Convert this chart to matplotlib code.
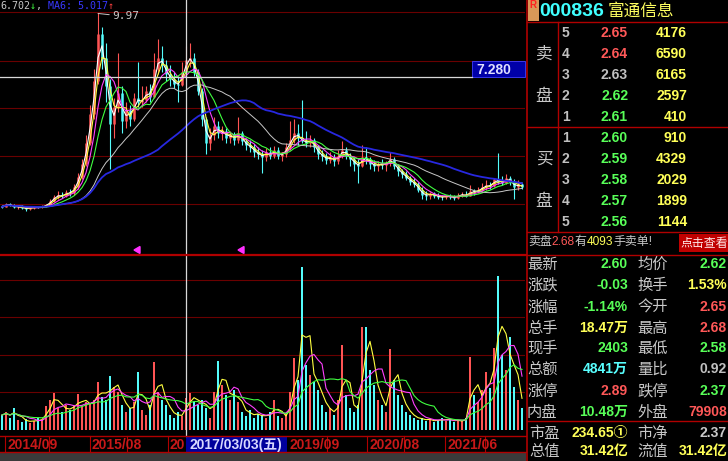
import matplotlib
matplotlib.use('Agg')
import matplotlib.pyplot as plt
import numpy as np
import pandas as pd
from matplotlib.patches import Rectangle, Polygon

plt.rcParams['font.family'] = ['Liberation Sans', 'Noto Sans CJK SC', 'DejaVu Sans']

# ---- K-line data (compressed, one bar ~ 4 px) ----
opens = [1.80, 1.78, 1.90, 1.84, 1.76, 1.79, 1.72, 1.70, 1.74, 1.77, 1.75, 1.80, 1.86, 2.02, 2.20, 2.28,
         2.22, 2.40, 2.35, 2.62, 3.05, 3.60, 4.50, 5.70, 7.10, 9.10, 8.10, 6.90, 5.30, 6.00, 6.60, 5.40,
         5.90, 5.50, 6.40, 6.20, 6.30, 6.70, 6.45, 7.60, 8.10, 7.80, 7.40, 7.20, 7.00, 6.95, 7.50, 8.00,
         8.10, 7.50, 6.70, 5.50, 4.50, 4.80, 5.20, 4.90, 5.00, 4.70, 4.85, 4.60, 4.90, 4.55, 4.40, 4.30,
         4.10, 4.00, 3.90, 4.10, 3.95, 4.20, 3.95, 4.00, 4.30, 4.60, 4.90, 4.70, 4.55, 4.50, 4.60, 4.30,
         4.00, 3.95, 3.75, 3.90, 3.70, 3.95, 4.20, 3.95, 3.80, 3.60, 3.50, 3.90, 3.80, 3.60, 3.50, 3.60,
         3.55, 3.65, 3.80, 3.50, 3.30, 3.15, 3.00, 2.85, 2.75, 2.50, 2.30, 2.25, 2.35, 2.25, 2.20, 2.18,
         2.25, 2.20, 2.15, 2.28, 2.30, 2.25, 2.45, 2.40, 2.50, 2.60, 2.70, 2.65, 2.95, 2.85, 2.80, 3.00,
         2.85, 2.60, 2.75]
highs = [1.86, 1.95, 1.96, 1.88, 1.82, 1.85, 1.78, 1.76, 1.80, 1.82, 1.84, 1.90, 2.10, 2.30, 2.45, 2.40,
         2.50, 2.55, 2.75, 3.20, 3.80, 4.80, 6.10, 7.60, 9.97, 9.40, 8.70, 7.20, 6.40, 8.30, 6.90, 6.20,
         6.10, 6.60, 7.90, 6.90, 6.90, 7.00, 8.30, 8.90, 8.60, 8.00, 7.80, 7.50, 7.30, 7.90, 8.60, 8.70,
         8.30, 7.60, 6.80, 5.60, 5.10, 5.60, 5.40, 5.20, 5.10, 5.00, 4.95, 5.60, 5.00, 4.70, 4.60, 4.45,
         4.30, 4.20, 4.25, 4.30, 4.35, 4.30, 4.10, 4.50, 5.40, 5.50, 5.30, 6.30, 5.00, 4.80, 4.70, 4.40,
         4.20, 4.05, 4.10, 4.00, 4.20, 4.55, 4.30, 4.05, 3.90, 3.80, 4.40, 4.30, 3.90, 3.75, 3.70, 3.80,
         3.70, 4.10, 3.90, 3.60, 3.40, 3.30, 3.10, 3.00, 2.85, 2.60, 2.45, 2.40, 2.40, 2.35, 2.30, 2.30,
         2.32, 2.28, 2.35, 2.40, 2.45, 2.70, 2.55, 2.60, 2.80, 2.90, 2.85, 3.00, 4.05, 3.10, 3.15, 3.10,
         2.95, 2.90, 2.80]
lows = [1.74, 1.75, 1.80, 1.72, 1.70, 1.68, 1.62, 1.66, 1.70, 1.72, 1.73, 1.78, 1.84, 1.98, 2.10, 2.15,
        2.18, 2.25, 2.30, 2.55, 2.95, 3.50, 4.40, 5.50, 7.00, 7.60, 6.20, 3.40, 4.70, 5.80, 4.90, 5.10,
        5.20, 5.40, 6.00, 6.00, 6.20, 6.20, 6.40, 7.40, 7.50, 7.10, 6.90, 6.80, 6.20, 6.90, 7.40, 7.70,
        7.30, 6.50, 5.20, 4.00, 4.20, 4.60, 4.70, 4.60, 4.50, 4.50, 4.40, 4.50, 4.40, 4.20, 4.10, 3.90,
        3.80, 3.20, 3.70, 3.80, 3.85, 3.80, 3.70, 3.90, 4.20, 4.50, 4.40, 4.50, 4.30, 4.30, 4.10, 3.80,
        3.70, 3.60, 3.65, 3.50, 3.60, 3.85, 3.80, 3.50, 3.30, 2.80, 3.45, 3.60, 3.40, 3.30, 3.30, 3.40,
        3.30, 3.50, 3.40, 3.10, 3.00, 2.90, 2.70, 2.60, 2.40, 2.10, 2.05, 2.10, 2.15, 2.10, 2.05, 2.10,
        2.12, 2.08, 2.10, 2.18, 2.20, 2.22, 2.30, 2.35, 2.45, 2.50, 2.55, 2.60, 2.75, 2.70, 2.75, 2.70,
        2.10, 2.50, 2.55]
closes = [1.78, 1.90, 1.84, 1.76, 1.79, 1.72, 1.70, 1.74, 1.77, 1.75, 1.80, 1.86, 2.02, 2.20, 2.28, 2.22,
          2.40, 2.35, 2.62, 3.05, 3.60, 4.50, 5.70, 7.10, 9.10, 8.10, 6.90, 5.30, 6.00, 6.60, 5.40, 5.90,
          5.50, 6.40, 6.20, 6.30, 6.70, 6.45, 7.60, 8.10, 7.80, 7.40, 7.20, 7.00, 6.95, 7.50, 8.00, 8.10,
          7.50, 6.70, 5.50, 4.50, 4.80, 5.20, 4.90, 5.00, 4.70, 4.85, 4.60, 4.90, 4.55, 4.40, 4.30, 4.10,
          4.00, 3.90, 4.10, 3.95, 4.20, 3.95, 4.00, 4.30, 4.60, 4.90, 4.70, 4.55, 4.50, 4.60, 4.30, 4.00,
          3.95, 3.75, 3.90, 3.70, 3.95, 4.20, 3.95, 3.80, 3.60, 3.50, 3.90, 3.80, 3.60, 3.50, 3.60, 3.55,
          3.65, 3.80, 3.50, 3.30, 3.15, 3.00, 2.85, 2.75, 2.50, 2.30, 2.25, 2.35, 2.25, 2.20, 2.18, 2.25,
          2.20, 2.15, 2.28, 2.30, 2.25, 2.45, 2.40, 2.50, 2.60, 2.70, 2.65, 2.95, 2.85, 2.80, 3.00, 2.85,
          2.60, 2.75, 2.60]
volumes = [15, 18, 12, 22, 10, 8, 11, 7, 9, 12, 10, 24, 30, 37, 22, 18,
           25, 20, 24, 36, 25, 28, 26, 30, 48, 33, 30, 54, 43, 38, 25, 18,
           22, 28, 58, 20, 15, 25, 68, 38, 30, 25, 15, 12, 18, 14, 32, 37,
           28, 25, 30, 22, 12, 38, 69, 45, 35, 30, 40, 28, 18, 14, 20, 12,
           16, 15, 12, 18, 30, 14, 12, 16, 38, 72, 50, 163, 65, 55, 48, 40,
           25, 18, 22, 15, 30, 85, 35, 22, 18, 25, 103, 103, 60, 45, 30, 25,
           18, 81, 50, 35, 25, 18, 15, 12, 10, 12, 9, 11, 8, 10, 12, 9,
           11, 8, 10, 9, 12, 73, 35, 28, 40, 58, 42, 82, 154, 75, 60, 93,
           43, 30, 22]

price_ma = [(2, '#ffffff', 0.8), (3, '#ffff40', 0.8), (5, '#ff40ff', 0.8),
            (8, '#40ff40', 0.8), (20, '#c8c8c8', 0.7), (40, '#2828e0', 1.3)]
vol_ma = [(3, '#ffff40'), (6, '#ff40ff'), (12, '#40ff40')]

date_labels = ['2014/09', '2015/08', '20', '2019/09', '2020/08', '2021/06']
date_label_x = [8, 92, 170, 290, 369, 447]
date_sep_x = [5, 49, 90, 127, 168, 327, 367, 404, 445, 485]

sell_prices = ['2.65', '2.64', '2.63', '2.62', '2.61']
sell_colors = ['#ff5858', '#ff5858', '#c0c0c0', '#58ff58', '#58ff58']
sell_vols = ['4176', '6590', '6165', '2597', '410']
buy_prices = ['2.60', '2.59', '2.58', '2.57', '2.56']
buy_vols = ['910', '4329', '2029', '1899', '1144']

left_labels = ['最新', '涨跌', '涨幅', '总手', '现手', '总额', '涨停', '内盘']
left_values = ['2.60', '-0.03', '-1.14%', '18.47万', '2403', '4841万', '2.89', '10.48万']
left_colors = ['#58ff58', '#58ff58', '#58ff58', '#ffff58', '#58ff58', '#58ffff', '#ff5858', '#58ff58']
right_labels = ['均价', '换手', '今开', '最高', '最低', '量比', '跌停', '外盘']
right_values = ['2.62', '1.53%', '2.65', '2.68', '2.58', '0.92', '2.37', '79908']
right_colors = ['#58ff58', '#ffff58', '#ff5858', '#ff5858', '#58ff58', '#c0c0c0', '#58ff58', '#ff5858']

W, H = 728, 461
RED = '#ff5454'
CYAN = '#54fcfc'
GRID = '#6a0000'
SEP = '#b00000'


def box(x0, y0, x1, y1):
    return [x0 / W, 1 - y1 / H, (x1 - x0) / W, (y1 - y0) / H]


fig = plt.figure(figsize=(W / 100, H / 100), dpi=100, facecolor='black')
idx = np.arange(len(closes))
o, h, l, c = map(np.array, (opens, highs, lows, closes))
up = c >= o
bar_colors = np.where(up, RED, CYAN)

# overlay in pixel coordinates for frame, texts, crosshair
ov = fig.add_axes([0, 0, 1, 1])
ov.set_xlim(0, W)
ov.set_ylim(H, 0)
ov.axis('off')
ov.patch.set_alpha(0)
ov.set_zorder(5)

# ---- price panel ----
ax = fig.add_axes(box(0, 0, 525, 254))
ax.set_facecolor('black')
for y in [12, 61, 108, 156, 204]:
    ax.plot([0, 525], [y, y], color=GRID, lw=0.8, transform=ov.transData, zorder=0)
ax.vlines(idx, l, h, colors=bar_colors, lw=0.8, zorder=2)
ax.vlines(idx, np.minimum(o, c), np.maximum(o, c), colors=bar_colors, lw=1.8, zorder=2)
s = pd.Series(closes)
for w, col, lw in price_ma:
    ax.plot(idx, s.rolling(w, min_periods=1).mean(), color=col, lw=lw, zorder=3)
top = int(np.argmax(h))
ax.annotate(f'{h[top]:.2f}', xy=(idx[top], h[top]), xytext=(14, -3), textcoords='offset pixels',
            color='#c8c8c8', fontsize=8, family='DejaVu Sans Mono', va='center',
            arrowprops=dict(arrowstyle='-', color='#c8c8c8', lw=0.7, shrinkA=0, shrinkB=0))
ax.set_xlim(-0.5, 130.75)
ax.set_ylim(-0.22, 10.54)
ax.axis('off')

# ---- volume panel ----
av = fig.add_axes(box(0, 255, 525, 430))
av.set_facecolor('black')
for y in [280, 317, 355, 392]:
    av.plot([0, 525], [y, y], color=GRID, lw=0.8, transform=ov.transData, zorder=0)
av.bar(idx, volumes, width=0.62, color=bar_colors, zorder=2)
vs = pd.Series(volumes)
for w, col in vol_ma:
    av.plot(idx, vs.rolling(w, min_periods=1).mean(), color=col, lw=0.8, zorder=3)
av.set_xlim(-0.5, 130.75)
av.set_ylim(0, 175)
av.axis('off')

r = fig.canvas.get_renderer()


def rich(x, y, parts, size, **kw):
    for txt, col in parts:
        t = ov.text(x, y, txt, color=col, fontsize=size, va='center', ha='left', **kw)
        x += t.get_window_extent(r).width


# top-left MA readout
rich(0, 6, [('6.702', '#c8c8c8'), ('↓', '#40ff40'), (', ', '#c8c8c8'),
            ('MA6: 5.017', '#3838ff'), ('↑', '#ff4040')], 7.2, family='DejaVu Sans Mono')

# crosshair
ov.plot([0, 472], [77, 77], color='#d8d8d8', lw=0.9)
ov.plot([186, 186], [0, 436], color='#d8d8d8', lw=0.9)
ov.add_patch(Rectangle((472, 61), 53, 16, facecolor='#0000a8', edgecolor='#4040ff', lw=0.6))
ov.text(476, 69.5, '7.280', color='#e0e0ff', fontsize=10, fontweight='bold', va='center')

# markers
for tx in [137, 241]:
    ov.add_patch(Polygon([(tx - 3, 250), (tx + 3, 246.5), (tx + 3, 253.5)], color='#ff30ff'))

# panel borders
ov.plot([0, 526], [254.5, 254.5], color=SEP, lw=1.6)
ov.plot([0, 526], [436, 436], color=SEP, lw=1.0)
ov.plot([0, 526], [452, 452], color=SEP, lw=1.0)
for x in date_sep_x:
    ov.plot([x, x], [436, 452], color=SEP, lw=0.8)
for lab, x in zip(date_labels, date_label_x):
    ov.text(x, 444.5, lab, color='#c81818', fontsize=10, fontweight='bold', va='center')
ov.add_patch(Rectangle((186, 437), 101, 15, facecolor='#00009c', edgecolor='none'))
ov.text(189, 444.5, '2017/03/03(五)', color='#d8d8ff', fontsize=10, fontweight='bold', va='center')
ov.add_patch(Rectangle((0, 452.5), 526, 9, facecolor='#3a3a3a', edgecolor='none'))

# ---- right panel ----
ov.plot([526.5, 526.5], [0, H], color=SEP, lw=1.2)
ov.add_patch(Rectangle((528, 0), 11, 21, facecolor='#d89858', edgecolor='none'))
ov.text(529, 5, 'R', color='#ff2020', fontsize=7, fontweight='bold', va='center')
ov.text(539, 11, '000836', color='#40ffff', fontsize=14, fontweight='bold', va='center')
ov.text(608, 11, '富通信息', color='#ffff60', fontsize=12, va='center', family='Noto Sans CJK SC')
for y in [22, 127, 232, 254.5, 421]:
    ov.plot([527, W], [y, y], color=SEP, lw=1.0)
ov.plot([558, 558], [22, 232], color=SEP, lw=1.0)

row_y = [33, 54, 75, 96, 117]
for k in range(5):
    y = row_y[k]
    ov.text(562, y, str(5 - k), color='#c0c0c0', fontsize=10, fontweight='bold', va='center')
    ov.text(628, y, sell_prices[k], color=sell_colors[k], fontsize=10, fontweight='bold',
            va='center', ha='right')
    ov.text(687, y, sell_vols[k], color='#ffff58', fontsize=10, fontweight='bold',
            va='center', ha='right')
    y2 = y + 105
    ov.text(562, y2, str(k + 1), color='#c0c0c0', fontsize=10, fontweight='bold', va='center')
    ov.text(628, y2, buy_prices[k], color='#58ff58', fontsize=10, fontweight='bold',
            va='center', ha='right')
    ov.text(687, y2, buy_vols[k], color='#ffff58', fontsize=10, fontweight='bold',
            va='center', ha='right')
for ch, y in [('卖', 54), ('盘', 96), ('买', 159), ('盘', 201)]:
    ov.text(544, y, ch, color='#c8c8c8', fontsize=12, va='center', ha='center',
            family='Noto Sans CJK SC')

rich(528, 242, [('卖盘', '#c8c8c8'), ('2.68', '#ff5858'), ('有', '#c8c8c8'),
                ('4093', '#ffff58'), ('手卖单!', '#c8c8c8')], 8.6)
ov.add_patch(Rectangle((679, 234), 50, 18, facecolor='#c00000', edgecolor='none'))
ov.text(680, 243, '点击查看', color='#ffe8e8', fontsize=8.6, va='center', family='Noto Sans CJK SC')

stat_y = [264, 285, 307, 328, 348, 369, 391, 412]
for k in range(8):
    y = stat_y[k]
    ov.text(527, y, left_labels[k], color='#c8c8c8', fontsize=11, va='center',
            family='Noto Sans CJK SC')
    ov.text(628, y, left_values[k], color=left_colors[k], fontsize=10, fontweight='bold',
            va='center', ha='right')
    ov.text(637, y, right_labels[k], color='#c8c8c8', fontsize=11, va='center',
            family='Noto Sans CJK SC')
    ov.text(727, y, right_values[k], color=right_colors[k], fontsize=10, fontweight='bold',
            va='center', ha='right')

ov.text(529, 433, '市盈', color='#c8c8c8', fontsize=11, va='center', family='Noto Sans CJK SC')
ov.text(628, 433, '234.65①', color='#ffff58', fontsize=10, fontweight='bold', va='center', ha='right')
ov.text(637, 433, '市净', color='#c8c8c8', fontsize=11, va='center', family='Noto Sans CJK SC')
ov.text(727, 433, '2.37', color='#c8c8c8', fontsize=10, fontweight='bold', va='center', ha='right')
ov.text(529, 451, '总值', color='#c8c8c8', fontsize=11, va='center', family='Noto Sans CJK SC')
ov.text(628, 451, '31.42亿', color='#ffff58', fontsize=10, fontweight='bold', va='center', ha='right')
ov.text(637, 451, '流值', color='#c8c8c8', fontsize=11, va='center', family='Noto Sans CJK SC')
ov.text(727, 451, '31.42亿', color='#ffff58', fontsize=10, fontweight='bold', va='center', ha='right')

fig.savefig('out.png', dpi=100, facecolor='black')
